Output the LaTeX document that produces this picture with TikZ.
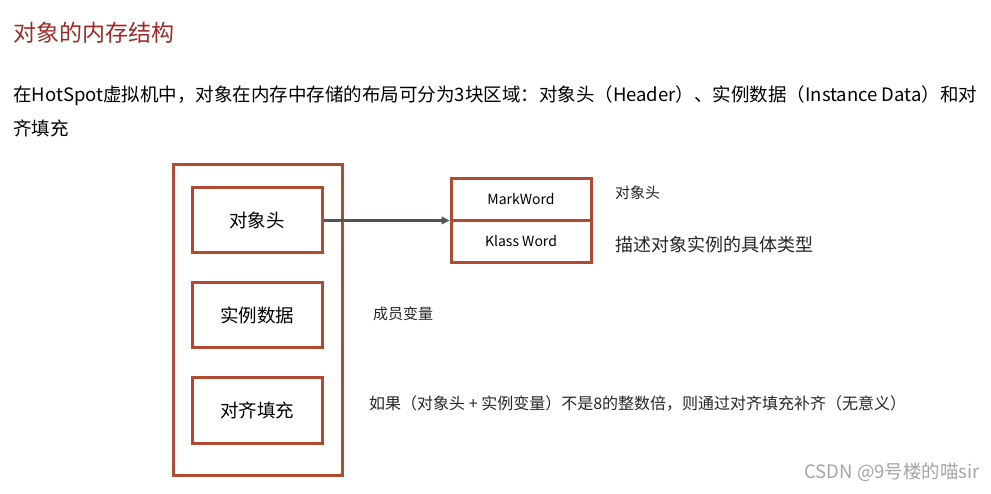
\documentclass[tikz,border=0pt]{standalone}
\usepackage{fontspec}
\setmainfont{Noto Sans CJK SC}
\usetikzlibrary{arrows.meta}
\definecolor{boxred}{HTML}{B04A30}
\definecolor{titlered}{HTML}{9E2B25}
\definecolor{arrowgray}{HTML}{4F5555}
\tikzset{
  membox/.style={draw=boxred, line width=3pt, fill=none, minimum width=130pt, minimum height=65pt, inner sep=0pt, font=\fontsize{18.5}{20}\selectfont},
  wordbox/.style={draw=boxred, line width=3pt, minimum width=140pt, minimum height=42pt, inner sep=0pt, font=\fontsize{14}{15}\selectfont},
  note/.style={anchor=west, inner sep=0pt, text=black!85},
}
\begin{document}
\begin{tikzpicture}[x=1pt,y=-1pt]
\useasboundingbox[fill=white] (0,0) rectangle (991,494);
\node[anchor=west, inner sep=0pt, text=titlered, font=\fontsize{23}{26}\selectfont] (title) at (13,33) {对象的内存结构};
\node[anchor=west, inner sep=0pt, font=\fontsize{18.5}{22}\selectfont] (p1) at (13,96) {在HotSpot虚拟机中，对象在内存中存储的布局可分为3块区域：对象头（Header）、实例数据（Instance Data）和对};
\node[anchor=west, inner sep=0pt, font=\fontsize{18.5}{22}\selectfont] (p2) at (13,128) {齐填充};
% outer box
\node[draw=boxred, line width=3pt, minimum width=169pt, minimum height=310pt, inner sep=0pt] (outer) at (257.5,320) {};
\node[membox] (hdr) at (257,220.5) {对象头};
\node[membox] (inst) at (257,315.5) {实例数据};
\node[membox] (pad) at (257,410.5) {对齐填充};
% right boxes
\node[wordbox] (mark) at (521,199.5) {MarkWord};
\node[wordbox] (klass) at (521,241.5) {Klass Word};
\draw[arrowgray, line width=2.4pt, -{Triangle[length=8pt,width=7.5pt]}] (hdr.east) -- (hdr.east -| mark.west);
% notes
\node[note, font=\fontsize{15}{16}\selectfont] (n1) at (615,193) {对象头};
\node[note, font=\fontsize{18}{20}\selectfont] (n2) at (615,245) {描述对象实例的具体类型};
\node[note, font=\fontsize{15}{17}\selectfont] (n3) at (373,314) {成员变量};
\node[note, font=\fontsize{16}{18}\selectfont] (n4) at (369,404) {如果（对象头 + 实例变量）不是8的整数倍，则通过对齐填充补齐（无意义）};
\node[anchor=east, inner sep=0pt, text=black!35, font=\fontsize{18.5}{20}\selectfont] (wm) at (980,472) {CSDN @9号楼的喵sir};
\end{tikzpicture}
\end{document}
